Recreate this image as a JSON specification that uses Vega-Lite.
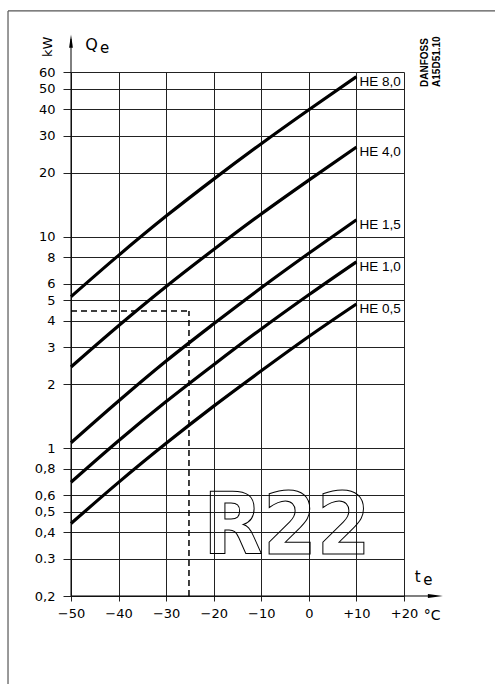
{
  "$schema": "https://vega.github.io/schema/vega-lite/v6.json",
  "width": 333,
  "height": 524,
  "autosize": {"type": "none"},
  "padding": {"left": 71, "top": 72, "right": 91, "bottom": 88},
  "background": "white",
  "config": {"view": {"stroke": null}, "font": "DejaVu Sans"},
  "datasets": {
    "curves": [
      {"series": "HE 8,0", "t": -50, "q": 5.2},
      {"series": "HE 8,0", "t": -40, "q": 8.15},
      {"series": "HE 8,0", "t": -30, "q": 12.5},
      {"series": "HE 8,0", "t": -20, "q": 18.7},
      {"series": "HE 8,0", "t": -10, "q": 27.5},
      {"series": "HE 8,0", "t": 0, "q": 39.8},
      {"series": "HE 8,0", "t": 10, "q": 57},
      {"series": "HE 4,0", "t": -50, "q": 2.42},
      {"series": "HE 4,0", "t": -40, "q": 3.79},
      {"series": "HE 4,0", "t": -30, "q": 5.81},
      {"series": "HE 4,0", "t": -20, "q": 8.69},
      {"series": "HE 4,0", "t": -10, "q": 12.8},
      {"series": "HE 4,0", "t": 0, "q": 18.5},
      {"series": "HE 4,0", "t": 10, "q": 26.5},
      {"series": "HE 1,5", "t": -50, "q": 1.06},
      {"series": "HE 1,5", "t": -40, "q": 1.67},
      {"series": "HE 1,5", "t": -30, "q": 2.58},
      {"series": "HE 1,5", "t": -20, "q": 3.87},
      {"series": "HE 1,5", "t": -10, "q": 5.73},
      {"series": "HE 1,5", "t": 0, "q": 8.34},
      {"series": "HE 1,5", "t": 10, "q": 12},
      {"series": "HE 1,0", "t": -50, "q": 0.69},
      {"series": "HE 1,0", "t": -40, "q": 1.084},
      {"series": "HE 1,0", "t": -30, "q": 1.66},
      {"series": "HE 1,0", "t": -20, "q": 2.48},
      {"series": "HE 1,0", "t": -10, "q": 3.66},
      {"series": "HE 1,0", "t": 0, "q": 5.31},
      {"series": "HE 1,0", "t": 10, "q": 7.6},
      {"series": "HE 0,5", "t": -50, "q": 0.44},
      {"series": "HE 0,5", "t": -40, "q": 0.689},
      {"series": "HE 0,5", "t": -30, "q": 1.054},
      {"series": "HE 0,5", "t": -20, "q": 1.58},
      {"series": "HE 0,5", "t": -10, "q": 2.32},
      {"series": "HE 0,5", "t": 0, "q": 3.37},
      {"series": "HE 0,5", "t": 10, "q": 4.8}
    ]
  },
  "layer": [
    {
      "data": {"name": "curves"},
      "mark": {"type": "line", "color": "black", "strokeWidth": 3.2, "interpolate": "monotone", "strokeCap": "butt"},
      "encoding": {
        "x": {
          "field": "t", "type": "quantitative",
          "scale": {"domain": [-50, 20], "nice": false, "zero": false},
          "axis": {
            "values": [-50, -40, -30, -20, -10, 0, 10, 20],
            "title": null, "domain": false,
            "grid": true, "gridColor": "#222", "gridWidth": 1,
            "tickColor": "#222", "tickSize": 5, "labelPadding": 6,
            "labelFont": "DejaVu Sans", "labelFontSize": 13, "labelColor": "black",
            "labelOverlap": false, "labelFlush": false, "labelBound": false,
            "labelExpr": "datum.value > 0 ? '+' + datum.value : (datum.value < 0 ? '\u2212' + abs(datum.value) : '0')"
          }
        },
        "y": {
          "field": "q", "type": "quantitative",
          "scale": {"type": "log", "domain": [0.2, 60], "nice": false},
          "axis": {
            "values": [0.2, 0.3, 0.4, 0.5, 0.6, 0.8, 1, 2, 3, 4, 5, 6, 8, 10, 20, 30, 40, 50, 60],
            "title": null, "domain": false,
            "grid": true, "gridColor": "#222", "gridWidth": 1,
            "tickColor": "#222", "tickSize": 8, "labelPadding": 8,
            "labelFont": "DejaVu Sans", "labelFontSize": 13, "labelColor": "black",
            "labelOverlap": false, "labelFlush": false, "labelBound": false,
            "labelExpr": "datum.value == 0.3 ? '0.3' : replace(format(datum.value, '~g'), '.', ',')"
          }
        },
        "detail": {"field": "series"}
      }
    },
    {
      "data": {"name": "curves"},
      "transform": [{"filter": "datum.t == 10"}],
      "mark": {"type": "text", "align": "left", "baseline": "middle", "dx": 3, "dy": 5, "font": "Liberation Sans", "fontSize": 13.5, "color": "black"},
      "encoding": {
        "x": {"field": "t", "type": "quantitative"},
        "y": {"field": "q", "type": "quantitative"},
        "text": {"field": "series"}
      }
    },
    {
      "data": {"values": [{}]},
      "mark": {"type": "rule", "color": "#555", "strokeWidth": 1.2},
      "encoding": {
        "x": {"datum": -63.24, "type": "quantitative"},
        "y": {"datum": 0.0767, "type": "quantitative"},
        "y2": {"datum": 116.7}
      }
    },
    {
      "data": {"values": [{}]},
      "mark": {"type": "rule", "color": "#555", "strokeWidth": 1.2},
      "encoding": {
        "y": {"datum": 116.7, "type": "quantitative"},
        "x": {"datum": -63.24, "type": "quantitative"},
        "x2": {"datum": 39.2}
      }
    },
    {
      "data": {"values": [{}]},
      "mark": {"type": "rule", "color": "black", "strokeWidth": 1},
      "encoding": {
        "x": {"datum": -50, "type": "quantitative"},
        "y": {"datum": 0.2, "type": "quantitative"},
        "y2": {"datum": 86}
      }
    },
    {
      "data": {"values": [{}]},
      "mark": {"type": "point", "shape": "M0,-1L0.28,1L-0.28,1Z", "size": 180, "filled": true, "color": "black", "opacity": 1},
      "encoding": {
        "x": {"datum": -50, "type": "quantitative"},
        "y": {"datum": 84, "type": "quantitative"}
      }
    },
    {
      "data": {"values": [{}]},
      "mark": {"type": "rule", "color": "black", "strokeWidth": 1.2},
      "encoding": {
        "y": {"datum": 0.2, "type": "quantitative"},
        "x": {"datum": -50, "type": "quantitative"},
        "x2": {"datum": 26}
      }
    },
    {
      "data": {"values": [{}]},
      "mark": {"type": "point", "shape": "M1,0L-1,0.28L-1,-0.28Z", "size": 225, "filled": true, "color": "black", "opacity": 1},
      "encoding": {
        "x": {"datum": 26.6, "type": "quantitative"},
        "y": {"datum": 0.2, "type": "quantitative"}
      }
    },
    {
      "data": {"values": [{}]},
      "mark": {"type": "rule", "color": "black", "strokeWidth": 1.5, "strokeDash": [6, 4]},
      "encoding": {
        "y": {"datum": 4.45, "type": "quantitative"},
        "x": {"datum": -50, "type": "quantitative"},
        "x2": {"datum": -25.2}
      }
    },
    {
      "data": {"values": [{}]},
      "mark": {"type": "rule", "color": "black", "strokeWidth": 1.5, "strokeDash": [6, 4]},
      "encoding": {
        "x": {"datum": -25.2, "type": "quantitative"},
        "y": {"datum": 0.2, "type": "quantitative"},
        "y2": {"datum": 4.45}
      }
    },
    {
      "data": {"values": [{}]},
      "mark": {"type": "text", "text": "R22", "align": "center", "baseline": "alphabetic", "font": "'DejaVu Sans Condensed', Roboto, sans-serif", "fontWeight": "bold", "fontSize": 86, "fill": "white", "fillOpacity": 0, "stroke": "black", "strokeWidth": 1},
      "encoding": {
        "x": {"datum": -4.6, "type": "quantitative"},
        "y": {"datum": 0.316, "type": "quantitative"}
      }
    },
    {
      "data": {"values": [{}]},
      "mark": {"type": "text", "text": "kW", "angle": 270, "align": "center", "baseline": "middle", "font": "DejaVu Sans", "fontSize": 13, "color": "black"},
      "encoding": {
        "x": {"datum": -54.84, "type": "quantitative"},
        "y": {"datum": 78.9, "type": "quantitative"}
      }
    },
    {
      "data": {"values": [{}]},
      "mark": {"type": "text", "text": "Q", "align": "center", "baseline": "alphabetic", "font": "DejaVu Sans", "fontSize": 16, "color": "black"},
      "encoding": {
        "x": {"datum": -45.68, "type": "quantitative"},
        "y": {"datum": 76.3, "type": "quantitative"}
      }
    },
    {
      "data": {"values": [{}]},
      "mark": {"type": "text", "text": "e", "align": "center", "baseline": "alphabetic", "font": "DejaVu Sans", "fontSize": 15, "color": "black"},
      "encoding": {
        "x": {"datum": -42.95, "type": "quantitative"},
        "y": {"datum": 73.9, "type": "quantitative"}
      }
    },
    {
      "data": {"values": [{}]},
      "mark": {"type": "text", "text": "t", "align": "center", "baseline": "alphabetic", "font": "DejaVu Sans", "fontSize": 15, "color": "black"},
      "encoding": {
        "x": {"datum": 22.9, "type": "quantitative"},
        "y": {"datum": 0.233, "type": "quantitative"}
      }
    },
    {
      "data": {"values": [{}]},
      "mark": {"type": "text", "text": "e", "align": "center", "baseline": "alphabetic", "font": "DejaVu Sans", "fontSize": 15, "color": "black"},
      "encoding": {
        "x": {"datum": 25.0, "type": "quantitative"},
        "y": {"datum": 0.2254, "type": "quantitative"}
      }
    },
    {
      "data": {"values": [{}]},
      "mark": {"type": "text", "text": "°C", "align": "center", "baseline": "alphabetic", "font": "DejaVu Sans", "fontSize": 14, "color": "black"},
      "encoding": {
        "x": {"datum": 25.9, "type": "quantitative"},
        "y": {"datum": 0.154, "type": "quantitative"}
      }
    },
    {
      "data": {"values": [{}]},
      "mark": {"type": "text", "text": "DANFOSS", "angle": 270, "align": "left", "baseline": "middle", "font": "Liberation Sans", "fontWeight": "bold", "fontSize": 10, "color": "black"},
      "encoding": {
        "x": {"datum": 24.5, "type": "quantitative"},
        "y": {"datum": 51, "type": "quantitative"}
      }
    },
    {
      "data": {"values": [{}]},
      "mark": {"type": "text", "text": "A15D51.10", "angle": 270, "align": "left", "baseline": "middle", "font": "Liberation Sans", "fontWeight": "bold", "fontSize": 10, "color": "black"},
      "encoding": {
        "x": {"datum": 26.9, "type": "quantitative"},
        "y": {"datum": 51, "type": "quantitative"}
      }
    }
  ]
}
